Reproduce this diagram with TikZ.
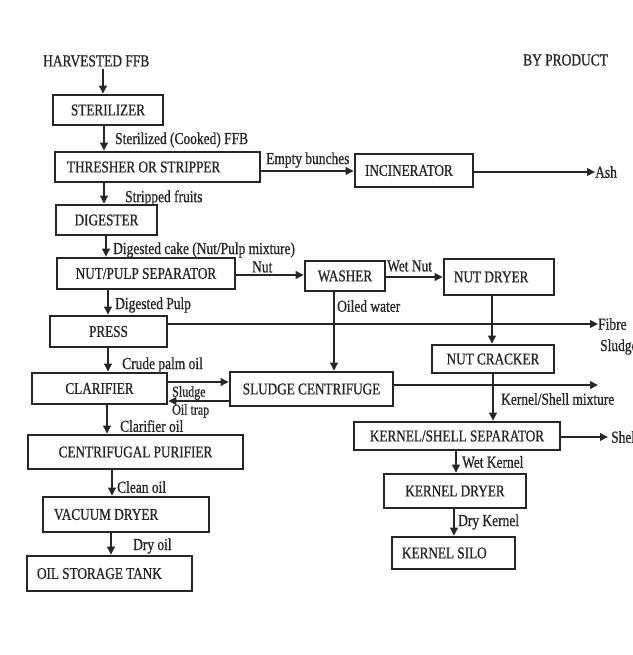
\documentclass[tikz,border=0pt]{standalone}
\usepackage{fontspec}
\setmainfont[FakeStretch=0.8,FakeBold=0.8]{Liberation Serif}
\usetikzlibrary{arrows.meta}
\definecolor{ink}{HTML}{262626}
\begin{document}
\begin{tikzpicture}[x=1pt,y=-1pt,
  box/.style={draw=ink, line width=2.6pt, inner sep=0pt, text=ink, font=\fontsize{16.5}{18}\selectfont},
  lbox/.style={box, align=flush left},
  lbl/.style={inner sep=0pt, anchor=west, text=ink, font=\fontsize{16.8}{18}\selectfont},
  slbl/.style={lbl, font=\fontsize{15}{16}\selectfont},
  arr/.style={draw=ink, line width=2.2pt, -{Triangle[length=8pt,width=7.5pt]}}]
\useasboundingbox (0,0) rectangle (632,655);
\fill[white] (0,0) rectangle (632,655);

% header texts
\node[lbl] (harv) at (43,61) {HARVESTED FFB};
\node[lbl] (byp) at (523,60) {BY PRODUCT};

% boxes
\node[box, minimum width=110pt, minimum height=30pt] (ster) at (108,110) {STERILIZER};
\node[lbox, minimum height=30pt, text width=181pt, inner xsep=12pt] (thr) at (157.5,167) {THRESHER OR STRIPPER};
\node[lbox, minimum height=33pt, text width=98pt, inner xsep=10pt] (inc) at (414,170.5) {INCINERATOR};
\node[box, minimum width=101pt, minimum height=30pt] (dig) at (106.5,220) {DIGESTER};
\node[box, minimum width=178pt, minimum height=31pt] (nps) at (146,273.5) {NUT/PULP SEPARATOR};
\node[box, minimum width=80pt, minimum height=30pt] (wash) at (345,276) {WASHER};
\node[lbox, minimum height=36pt, text width=90pt, inner xsep=10pt] (nd) at (499,277) {NUT DRYER};
\node[box, minimum width=117pt, minimum height=31pt] (press) at (108.5,331.5) {PRESS};
\node[box, minimum width=122pt, minimum height=28pt] (nc) at (493,359) {NUT CRACKER};
\node[box, minimum width=135pt, minimum height=31pt] (clar) at (99.5,388.5) {CLARIFIER};
\node[box, minimum width=163pt, minimum height=34pt] (sc) at (311.5,389) {SLUDGE CENTRIFUGE};
\node[box, minimum width=206pt, minimum height=28pt] (kss) at (457,436) {KERNEL/SHELL SEPARATOR};
\node[box, minimum width=215pt, minimum height=34pt] (pur) at (135.5,452) {CENTRIFUGAL PURIFIER};
\node[lbox, minimum height=35pt, text width=144pt, inner xsep=11pt] (vac) at (126,514.5) {VACUUM DRYER};
\node[lbox, minimum height=35pt, text width=145pt, inner xsep=10pt] (ost) at (109.5,573.5) {OIL STORAGE TANK};
\node[box, minimum width=142pt, minimum height=34pt] (kd) at (455,491) {KERNEL DRYER};
\node[lbox, minimum height=32pt, text width=103pt, inner xsep=10pt] (silo) at (453.5,553) {KERNEL SILO};

% by-product end texts
\node[lbl] (ash) at (595,172) {Ash};
\node[lbl] (fibre) at (598,324) {Fibre};
\node[lbl] (sludgeout) at (600,347) {Sludge};
\node[lbl] (shell) at (611,437) {Shell};
\coordinate (sludgeend) at (598,385);

% connectors
\draw[arr] (103,0 |- harv.south) ++(0,2) -- (103,0 |- ster.north);
\draw[arr] (104,0 |- ster.south) -- (104,0 |- thr.north);
\draw[arr] (104,0 |- thr.south) -- (104,0 |- dig.north);
\draw[arr] (thr.east |- 0,171) -- (inc.west |- 0,171);
\draw[arr] (inc.east |- 0,172) -- (ash.west);
\draw[arr] (106,0 |- dig.south) -- (106,0 |- nps.north);
\draw[arr] (nps.east |- 0,275) -- (wash.west |- 0,275);
\draw[arr] (wash.east |- 0,277) -- (nd.west |- 0,277);
\draw[arr] (108,0 |- nps.south) -- (108,0 |- press.north);
\draw[arr] (334,0 |- wash.south) -- (334,0 |- sc.north);
\draw[arr] (492,0 |- nd.south) -- (492,0 |- nc.north);
\draw[arr] (press.east |- 0,324) -- (fibre.west);
\draw[arr] (108,0 |- press.south) -- (108,0 |- clar.north);
\draw[arr] (clar.east |- 0,382) -- (sc.west |- 0,382);
\draw[arr] (sc.west |- 0,401) -- (clar.east |- 0,401);
\draw[arr] (sc.east |- 0,385) -- (sludgeend);
\draw[arr] (493,0 |- nc.south) -- (493,0 |- kss.north);
\draw[arr] (kss.east |- 0,437) -- ([xshift=-3pt]shell.west);
\draw[arr] (456,0 |- kss.south) -- (456,0 |- kd.north);
\draw[arr] (454,0 |- kd.south) -- (454,0 |- silo.north);
\draw[arr] (107,0 |- clar.south) -- (107,0 |- pur.north);
\draw[arr] (112,0 |- pur.south) -- (112,0 |- vac.north);
\draw[arr] (111,0 |- vac.south) -- (111,0 |- ost.north);

% connector labels
\node[lbl] (l1) at (115,140) {Sterilized (Cooked) FFB};
\node[lbl] (l2) at (266,160) {Empty bunches};
\node[lbl] (l3) at (125,198) {Stripped fruits};
\node[lbl] (l4) at (113,250) {Digested cake (Nut/Pulp mixture)};
\node[lbl] (l5) at (252,267) {Nut};
\node[lbl] (l6) at (387,266) {Wet Nut};
\node[lbl] (l7) at (337,306) {Oiled water};
\node[lbl] (l8) at (115,305) {Digested Pulp};
\node[lbl] (l9) at (122,365) {Crude palm oil};
\node[slbl] (l10) at (172,393) {Sludge};
\node[slbl] (l11) at (172,411) {Oil trap};
\node[lbl] (l12) at (120,426) {Clarifier oil};
\node[lbl] (l13) at (117,487) {Clean oil};
\node[lbl] (l14) at (133,546) {Dry oil};
\node[lbl] (l15) at (501,399) {Kernel/Shell mixture};
\node[lbl] (l16) at (462,462) {Wet Kernel};
\node[lbl] (l17) at (458,522) {Dry Kernel};
\end{tikzpicture}
\end{document}
